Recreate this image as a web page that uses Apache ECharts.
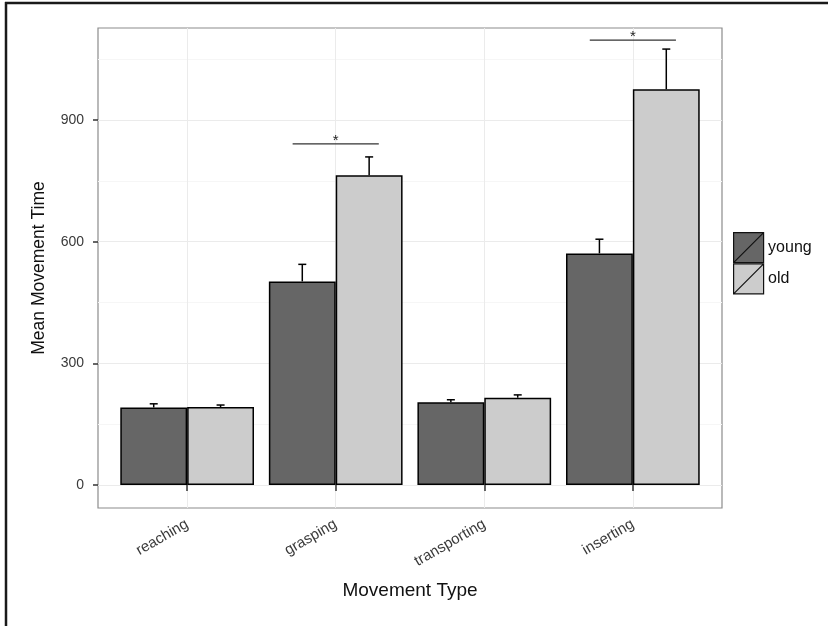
<!DOCTYPE html>
<html>
<head>
<meta charset="utf-8">
<title>Mean Movement Time</title>
<script src="https://cdn.jsdelivr.net/npm/echarts@6/dist/echarts.min.js"></script>
<style>
  html, body { margin: 0; padding: 0; background: #fff; }
  #main { width: 829px; height: 626px; }
</style>
</head>
<body>
<div id="main"></div>
<script>
// data
const categories = ['reaching', 'grasping', 'transporting', 'inserting'];
const youngMeans = [191, 502, 204, 571];
const oldMeans = [192, 764, 215, 976];
const youngUpper = [200, 544, 210, 606];
const oldUpper = [197, 809, 222, 1075];
const yTicks = [0, 300, 600, 900];
const yMinor = [150, 450, 750, 1050];
// significance brackets
const sigCats = ['grasping', 'inserting'];
const sigValues = [841, 1097];
const sigLabels = ['*', '*'];

const FONT = '"Liberation Sans", Arial, sans-serif';
const GROUP_WIDTH = 0.9; // share of the band the two bars fill
const SIG_HALF = 0.29;   // half length of a bracket, in bands
const Y_MIN = -57, Y_MAX = 1127;

// panel and the inset category area (ggplot pads 0.6 of a band on each side)
const PANEL = { left: 98, right: 107, top: 28, bottom: 118 };
const band = (829 - PANEL.left - PANEL.right) / (categories.length + 0.2);
const inset = band * 0.1;

const chart = echarts.init(document.getElementById('main'));

function errorData(means, uppers) {
  return categories.map((c, i) => [i, means[i], uppers[i]]);
}

// upper-only error bar with a small cap
function errorRenderer(side) {
  return function (params, api) {
    const bw = api.size([1, 0])[0];
    const base = api.coord([api.value(0), api.value(1)]);
    const top = api.coord([api.value(0), api.value(2)]);
    const x = base[0] + side * bw * GROUP_WIDTH / 4;
    const style = { stroke: '#000', lineWidth: 1.5 };
    return {
      type: 'group',
      children: [
        { type: 'line', shape: { x1: x, y1: base[1], x2: x, y2: top[1] }, style },
        { type: 'line', shape: { x1: x - 4, y1: top[1], x2: x + 4, y2: top[1] }, style }
      ]
    };
  };
}

const keyIcon = 'path://M0,0 L30,0 L30,30 L0,30 Z M0,30 L30,0';

chart.setOption({
  animation: false,
  textStyle: { fontFamily: FONT },
  graphic: [
    { type: 'line', shape: { x1: 6, y1: 2, x2: 6, y2: 626 }, style: { stroke: '#1a1a1a', lineWidth: 2.5 } },
    { type: 'line', shape: { x1: 5, y1: 3, x2: 828, y2: 3 }, style: { stroke: '#1a1a1a', lineWidth: 2.5 } }
  ],
  grid: [
    {
      left: PANEL.left, right: PANEL.right, top: PANEL.top, bottom: PANEL.bottom,
      show: true, borderColor: '#8c8c8c', borderWidth: 1.2, backgroundColor: '#fff'
    },
    {
      left: PANEL.left + inset, right: PANEL.right + inset, top: PANEL.top, bottom: PANEL.bottom,
      show: false
    }
  ],
  legend: {
    orient: 'vertical',
    left: 733, top: 232,
    padding: 0,
    itemWidth: 31, itemHeight: 30, itemGap: 0,
    textStyle: { fontSize: 16, color: '#111', fontFamily: FONT, padding: [0, 0, 0, -1] },
    data: [
      { name: 'young', icon: keyIcon, itemStyle: { color: '#666666', borderColor: '#111', borderWidth: 1.2 } },
      { name: 'old', icon: keyIcon, itemStyle: { color: '#cccccc', borderColor: '#111', borderWidth: 1.2 } }
    ]
  },
  xAxis: [
    { type: 'value', gridIndex: 0, min: 0, max: 1, show: false },
    {
      type: 'category',
      gridIndex: 1,
      data: categories,
      boundaryGap: true,
      name: 'Movement Type',
      nameLocation: 'middle',
      nameGap: 73,
      nameTextStyle: { fontSize: 19, color: '#111', fontFamily: FONT },
      axisLine: { show: false },
      axisTick: { show: true, alignWithLabel: true, length: 6, lineStyle: { color: '#333', width: 1.5 } },
      axisLabel: { rotate: 30, fontSize: 15, color: '#3a3a3a', margin: 15, fontFamily: FONT },
      splitLine: { show: false }
    }
  ],
  yAxis: [
    {
      type: 'value',
      gridIndex: 0,
      min: Y_MIN,
      max: Y_MAX,
      name: 'Mean Movement Time',
      nameLocation: 'middle',
      nameGap: 50,
      nameTextStyle: { fontSize: 17.5, color: '#111', fontFamily: FONT },
      axisLine: { show: false },
      axisTick: { show: true, length: 5, customValues: yTicks, lineStyle: { color: '#333', width: 1.5 } },
      axisLabel: { fontSize: 14, color: '#3a3a3a', margin: 14, customValues: yTicks, fontFamily: FONT },
      splitLine: { show: false }
    },
    { type: 'value', gridIndex: 1, min: Y_MIN, max: Y_MAX, show: false, splitLine: { show: false } }
  ],
  series: [
    {
      // horizontal grid lines span the whole panel
      name: 'hgrid',
      type: 'line',
      xAxisIndex: 0, yAxisIndex: 0,
      data: [],
      z: 0,
      silent: true,
      markLine: {
        silent: true, symbol: 'none', label: { show: false }, z: 0, animation: false,
        data: [
          ...yMinor.map(v => ({ yAxis: v, lineStyle: { color: '#f6f6f6', width: 1, type: 'solid' } })),
          ...yTicks.map(v => ({ yAxis: v, lineStyle: { color: '#ebebeb', width: 1, type: 'solid' } }))
        ]
      }
    },
    {
      name: 'vgrid',
      type: 'line',
      xAxisIndex: 1, yAxisIndex: 1,
      data: [],
      z: 0,
      silent: true,
      markLine: {
        silent: true, symbol: 'none', label: { show: false }, z: 0, animation: false,
        data: categories.map(c => ({ xAxis: c, lineStyle: { color: '#ebebeb', width: 1, type: 'solid' } }))
      }
    },
    {
      name: 'young',
      type: 'bar',
      xAxisIndex: 1, yAxisIndex: 1,
      data: youngMeans,
      barGap: '0%',
      barCategoryGap: '10%',
      z: 3,
      itemStyle: { color: '#666666', borderColor: '#000', borderWidth: 1.5 }
    },
    {
      name: 'old',
      type: 'bar',
      xAxisIndex: 1, yAxisIndex: 1,
      data: oldMeans,
      z: 3,
      itemStyle: { color: '#cccccc', borderColor: '#000', borderWidth: 1.5 }
    },
    {
      name: 'young err',
      type: 'custom',
      xAxisIndex: 1, yAxisIndex: 1,
      z: 4, silent: true,
      renderItem: errorRenderer(-1),
      data: errorData(youngMeans, youngUpper)
    },
    {
      name: 'old err',
      type: 'custom',
      xAxisIndex: 1, yAxisIndex: 1,
      z: 4, silent: true,
      renderItem: errorRenderer(1),
      data: errorData(oldMeans, oldUpper)
    },
    {
      name: 'significance',
      type: 'custom',
      xAxisIndex: 1, yAxisIndex: 1,
      z: 4, silent: true,
      data: sigCats.map((c, i) => [categories.indexOf(c), sigValues[i]]),
      renderItem: function (params, api) {
        const bw = api.size([1, 0])[0];
        const mid = api.coord([api.value(0), api.value(1)]);
        const half = bw * SIG_HALF;
        return {
          type: 'group',
          children: [
            { type: 'line', shape: { x1: mid[0] - half, y1: mid[1], x2: mid[0] + half, y2: mid[1] },
              style: { stroke: '#333', lineWidth: 1.2 } },
            { type: 'text', x: mid[0], y: mid[1] - 3,
              style: { text: sigLabels[params.dataIndex], fontSize: 15, fill: '#222',
                       align: 'center', verticalAlign: 'middle', fontFamily: FONT } }
          ]
        };
      }
    }
  ]
});
</script>
</body>
</html>
